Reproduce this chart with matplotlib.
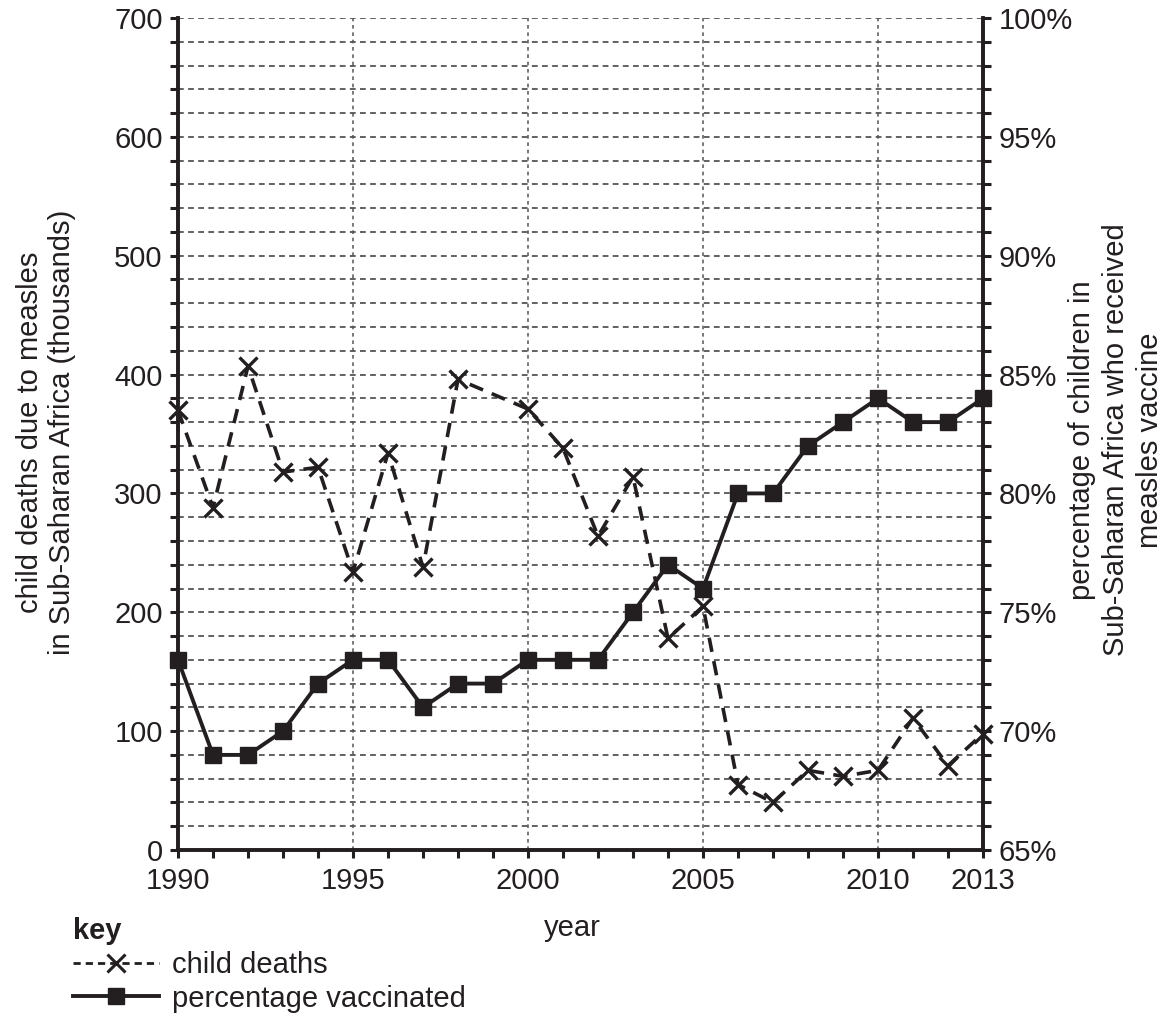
import matplotlib
matplotlib.use("Agg")
import matplotlib.pyplot as plt
from matplotlib.lines import Line2D
from matplotlib.ticker import MultipleLocator, FixedLocator, FuncFormatter

plt.rcParams['font.family'] = ['Liberation Sans', 'DejaVu Sans']

INK = '#231f20'
GRID = '#555555'

death_years = [1990, 1991, 1992, 1993, 1994, 1995, 1996, 1997, 1998,
               2000, 2001, 2002, 2003, 2004, 2005, 2006, 2007, 2008,
               2009, 2010, 2011, 2012, 2013]
child_deaths = [370, 288, 407, 318, 322, 234, 334, 238, 396,
                371, 338, 264, 314, 178, 205, 55, 40, 67,
                62, 67, 111, 71, 98]

vacc_years = list(range(1990, 2014))
pct_vaccinated = [73, 69, 69, 70, 72, 73, 73, 71, 72, 72, 73, 73, 73,
                  75, 77, 76, 80, 80, 82, 83, 84, 83, 83, 84]

x_tick_labels = [1990, 1995, 2000, 2005, 2010, 2013]

FS = 21

W, H = 1168, 1016
fig = plt.figure(figsize=(W/100, H/100), dpi=100)
ax = fig.add_axes([178/W, 1-850/H, (983-178)/W, (850-18)/H])
ax2 = ax.twinx()

ax.set_xlim(1990, 2013)
ax.set_ylim(0, 700)
ax2.set_ylim(65, 100)

# grid
for v in range(20, 701, 20):
    ax.axhline(v, color=GRID, lw=1.3, ls=(0, (3.2, 2.4)), zorder=1)
for yr in [1995, 2000, 2005, 2010]:
    ax.axvline(yr, color=GRID, lw=1.1, ls=(0, (2.4, 2.4)), zorder=1)

ax.plot(death_years, child_deaths, color=INK, lw=2.6, ls=(0, (4, 2.6)),
        marker='x', markersize=13, markeredgewidth=2.4, zorder=3, clip_on=False)
ax2.plot(vacc_years, pct_vaccinated, color=INK, lw=2.8, ls='-',
         marker='s', markersize=11, zorder=3, clip_on=False)

# spines
for a in (ax, ax2):
    a.spines['top'].set_visible(False)
    for s in ('left', 'right', 'bottom'):
        a.spines[s].set_linewidth(2.6)
        a.spines[s].set_color(INK)

ax.xaxis.set_major_locator(FixedLocator(x_tick_labels))
ax.xaxis.set_minor_locator(MultipleLocator(1))
ax.yaxis.set_major_locator(MultipleLocator(100))
ax.yaxis.set_minor_locator(MultipleLocator(20))
ax2.yaxis.set_major_locator(MultipleLocator(5))
ax2.yaxis.set_minor_locator(MultipleLocator(1))
ax2.yaxis.set_major_formatter(FuncFormatter(lambda v, p: f"{int(round(v))}%"))

for a in (ax, ax2):
    a.tick_params(which='both', direction='out', length=6, width=2.2,
                  color=INK, labelsize=FS, labelcolor=INK)
ax.tick_params(axis='x', which='major', pad=6)
ax.tick_params(axis='y', which='major', pad=5)
ax2.tick_params(axis='y', which='major', pad=5)

fig.text(572/W, 1-928/H, 'year', fontsize=FS, color=INK, ha='center', va='center')
fig.text(46/W, 1-432/H,
         'child deaths due to measles\nin Sub-Saharan Africa (thousands)',
         fontsize=FS, color=INK, rotation=90, ha='center', va='center',
         linespacing=1.15, multialignment='center')
fig.text(1116/W, 1-440/H,
         'percentage of children in\nSub-Saharan Africa who received\nmeasles vaccine',
         fontsize=FS, color=INK, rotation=90, ha='center', va='center',
         linespacing=1.25, multialignment='center')

handles = [
    Line2D([], [], color=INK, lw=2.0, ls=(0, (2.6, 1.8)), marker='x',
           markersize=13, markeredgewidth=2.2),
    Line2D([], [], color=INK, lw=2.8, ls='-', marker='s', markersize=11),
]
leg = fig.legend(handles, ['child deaths', 'percentage vaccinated'],
                 loc='upper left', bbox_to_anchor=(73/W, 1-917/H),
                 frameon=False, fontsize=FS, title='key',
                 title_fontproperties={'weight': 'bold', 'size': FS},
                 alignment='left', handlelength=2.95, handletextpad=0.45,
                 labelspacing=0.2, borderaxespad=0, borderpad=0)
for t in leg.get_texts():
    t.set_color(INK)
leg.get_title().set_color(INK)

fig.savefig('out.png', dpi=100)
